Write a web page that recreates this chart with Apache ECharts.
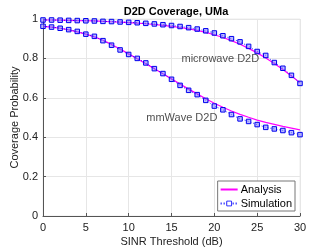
<!DOCTYPE html>
<html><head><meta charset="utf-8">
<script src="https://cdn.jsdelivr.net/npm/echarts@6/dist/echarts.min.js"></script>
<style>html,body{margin:0;padding:0;background:#fff}#c{width:332px;height:249px}</style>
</head><body><div id="c"></div>
<script>
const sinr = [0,1,2,3,4,5,6,7,8,9,10,11,12,13,14,15,16,17,18,19,20,21,22,23,24,25,26,27,28,29,30];
const microSim = [0.995,0.995,0.994,0.993,0.992,0.991,0.990,0.988,0.987,0.985,0.983,0.981,0.978,0.975,0.971,0.967,0.962,0.956,0.949,0.940,0.929,0.915,0.900,0.884,0.861,0.835,0.815,0.779,0.750,0.714,0.673];
const microAna = [0.995,0.995,0.994,0.993,0.992,0.991,0.990,0.988,0.986,0.984,0.982,0.979,0.976,0.972,0.968,0.963,0.957,0.950,0.942,0.932,0.920,0.906,0.890,0.872,0.851,0.828,0.802,0.774,0.744,0.711,0.677];
const mmSim = [0.963,0.959,0.953,0.946,0.937,0.923,0.912,0.890,0.867,0.843,0.820,0.800,0.777,0.748,0.723,0.694,0.663,0.638,0.616,0.587,0.558,0.539,0.515,0.493,0.480,0.464,0.450,0.442,0.434,0.423,0.413];
const mmAna = [0.963,0.959,0.953,0.945,0.935,0.923,0.909,0.892,0.871,0.848,0.823,0.798,0.773,0.748,0.722,0.696,0.670,0.644,0.620,0.595,0.572,0.552,0.533,0.516,0.501,0.487,0.475,0.465,0.455,0.446,0.437];
const xTicks = [0,5,10,15,20,25,30];
const yTicks = [0,0.2,0.4,0.6,0.8,1];
const notes = [
  {text:'microwave D2D', x:20.7, y:0.795},
  {text:'mmWave D2D', x:16.2, y:0.50}
];

const chart = echarts.init(document.getElementById('c'), null, {renderer:'canvas'});
const font = 'Liberation Sans, Arial, sans-serif';
const pair = (ys) => sinr.map((x,i)=>[x, ys[i]]);
const simStyle = {
  type:'line', symbol:'rect', symbolSize:4.5, showSymbol:true,
  lineStyle:{color:'#0000ff', width:0.8, type:[1,2]},
  itemStyle:{color:'rgba(120,120,255,0.5)', borderColor:'#0000ee', borderWidth:1},
  z:3, animation:false
};
const anaStyle = {
  type:'line', symbol:'none', lineStyle:{color:'#ff00ff', width:1.2}, itemStyle:{color:'#ff00ff'}, z:2, animation:false
};
chart.setOption({
  animation:false,
  title:{text:'D2D Coverage, UMa', left:171, top:1, textAlign:'center',
    textStyle:{fontFamily:font, fontSize:11, fontWeight:'bold', color:'#000'}},
  grid:{left:43, right:32, top:19, bottom:33, containLabel:false, outerBoundsMode:'none',
    show:true, borderColor:'#ececec', borderWidth:1},
  xAxis:{type:'value', min:0, max:30, interval:5,
    name:'SINR Threshold (dB)', nameLocation:'middle', nameGap:20, nameMoveOverlap:false,
    nameTextStyle:{fontFamily:font, fontSize:11, color:'#222'},
    axisLine:{show:true, onZero:false, lineStyle:{color:'#555', width:1}},
    axisTick:{show:true, inside:true, length:3, lineStyle:{color:'#555'}},
    axisLabel:{fontFamily:font, fontSize:11, color:'#222', margin:6,
      formatter:(v)=>xTicks.includes(v)?String(v):''},
    splitLine:{show:true, lineStyle:{color:'#e6e6e6', width:1}}},
  yAxis:{type:'value', min:0, max:1, interval:0.2,
    name:'Coverage Probability', nameLocation:'middle', nameGap:23, nameMoveOverlap:false,
    nameTextStyle:{fontFamily:font, fontSize:11, color:'#222'},
    axisLine:{show:true, lineStyle:{color:'#555', width:1}},
    axisTick:{show:true, inside:true, length:3, lineStyle:{color:'#555'}},
    axisLabel:{fontFamily:font, fontSize:11, color:'#222', margin:5,
      formatter:(v)=>{const t=yTicks.find(t=>Math.abs(t-v)<1e-9); return t===undefined?'':String(+t.toFixed(1));}},
    splitLine:{show:true, lineStyle:{color:'#e6e6e6', width:1}}},
  legend:{right:37, bottom:38, orient:'vertical', itemGap:3, itemWidth:17, itemHeight:6,
    padding:[3,3,2,2], backgroundColor:'#fff', borderColor:'#777', borderWidth:1, borderRadius:0,
    textStyle:{fontFamily:font, fontSize:11, color:'#000', padding:[0,0,0,-2]},
    data:[
      {name:'Analysis', itemStyle:{opacity:0}},
      {name:'Simulation', itemStyle:{color:'#fff', borderColor:'#0000ff', borderWidth:0.8}}
    ]},
  series:[
    Object.assign({name:'Analysis', data:pair(microAna)}, anaStyle),
    Object.assign({name:'Analysis', data:pair(mmAna)}, anaStyle),
    Object.assign({name:'Simulation', data:pair(microSim)}, simStyle),
    Object.assign({name:'Simulation', data:pair(mmSim)}, simStyle),
    {type:'scatter', name:'notes', silent:true, symbolSize:1, itemStyle:{color:'rgba(0,0,0,0)'},
      data:notes.map(n=>({value:[n.x,n.y], label:{show:true, formatter:n.text, position:'inside',
        fontFamily:font, fontSize:11, color:'#222'}})), z:4}
  ]
});
</script></body></html>
